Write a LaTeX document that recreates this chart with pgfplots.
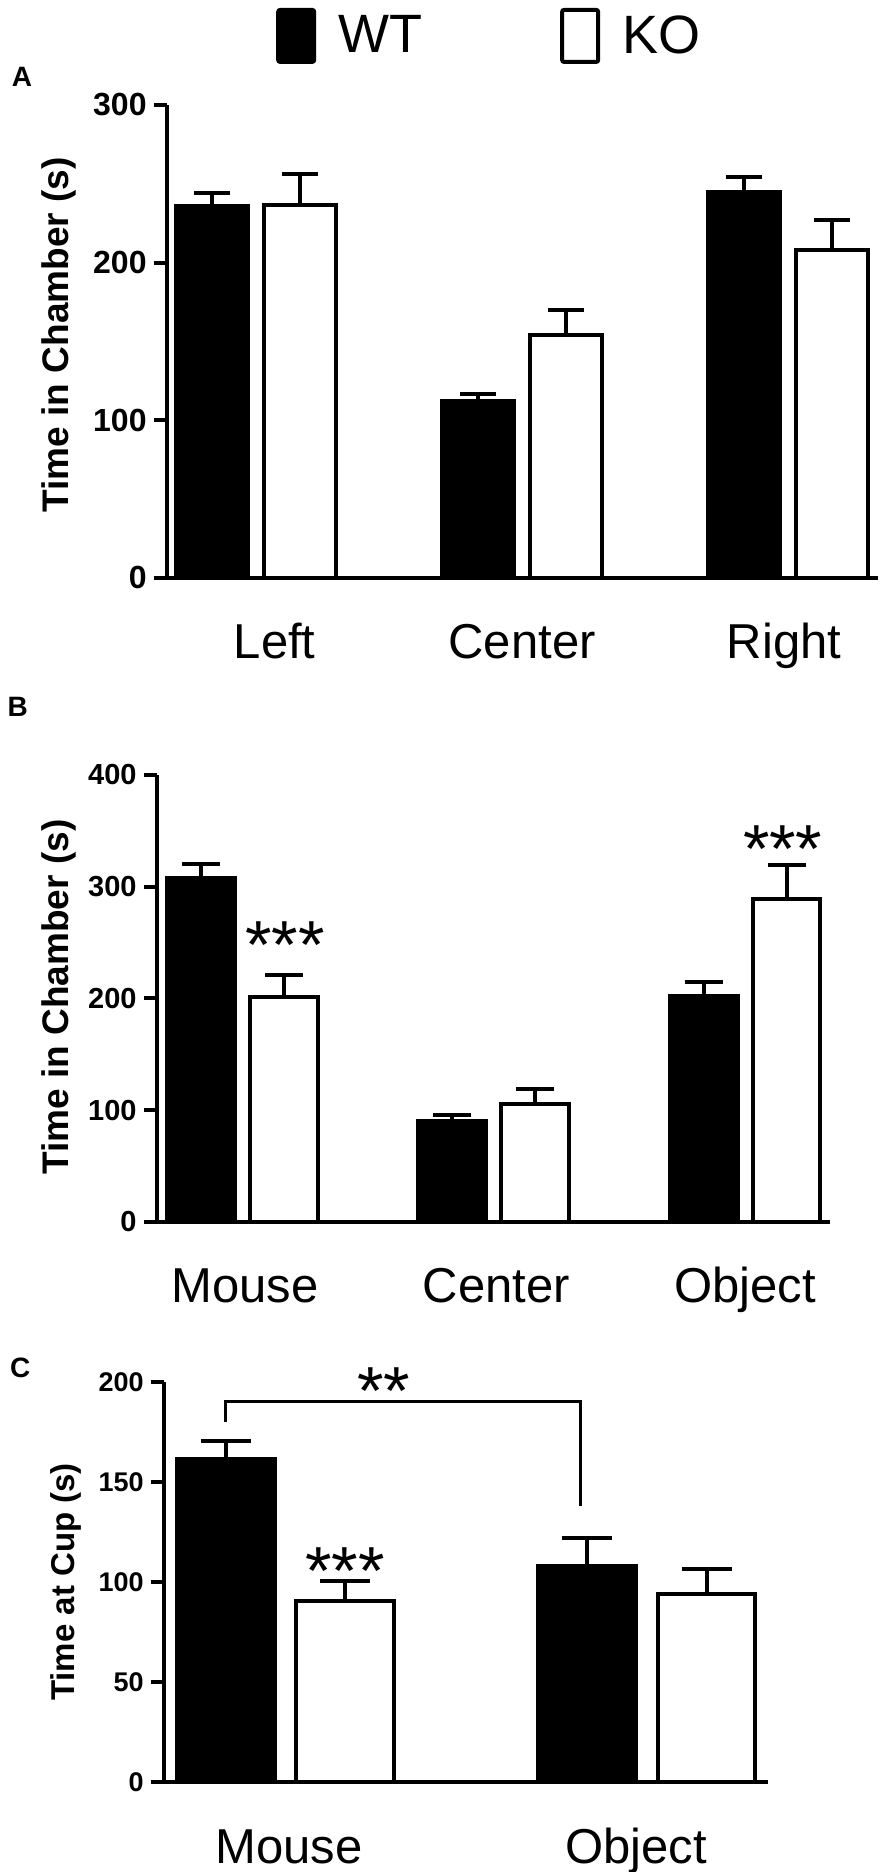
\documentclass[border=0pt]{standalone}
\usepackage{fontspec}
\setmainfont{Liberation Sans}
\usepackage{pgfplots}
\pgfplotsset{compat=1.18}

% bars are placed at group -0.165 (WT) and +0.165 (KO)
\pgfplotsset{
  panel/.style={
    scale only axis, anchor=south west, clip=false,
    axis x line*=bottom, axis y line*=left,
    axis line style={line width=2pt, -},
    ymin=0,
    tick align=outside,
    major tick length=6.5pt,
    ytick style={line width=2pt, black},
    xtick style={draw=none},
    /pgf/number format/assume math mode=true,
    xticklabel style={anchor=base, yshift=-34pt, font=\fontsize{24.5}{24.5}\selectfont},
    yticklabel style={anchor=east, inner sep=0pt, xshift=-3.5pt},
  },
  bars/.style={ybar, bar width=0.27, bar shift=0pt, line width=2pt, draw=black,
    error bars/y dir=plus, error bars/y explicit,
    error bars/error bar style={line width=2pt, black},
    error bars/error mark options={rotate=90, line width=2pt, black, mark size=#1}},
  wt/.style={fill=black, bars=#1},
  ko/.style={fill=white, bars=#1},
}
\tikzset{
  stars/.style={font=\fontsize{34}{34}\selectfont, anchor=base, inner sep=0pt},
  letter/.style={font=\bfseries\fontsize{14}{14}\selectfont},
}

\begin{document}
\begin{tikzpicture}
\useasboundingbox (0,0) rectangle (446pt,936pt);

% A
\begin{axis}[panel, at={(83.5pt,647pt)}, width=355.5pt, height=236.5pt,
  xmin=-0.335, xmax=2.338, ymax=300, ytick={0,100,200,300},
  xtick={0.07,1,1.985}, xticklabels={Left,Center,Right},
  yticklabel style={font=\bfseries\fontsize{16}{16}\selectfont},
  ylabel={Time in Chamber (s)},
  ylabel style={at={(axis description cs:-0.152,0.514)}, anchor=center,
    font=\bfseries\fontsize{18.5}{18.5}\selectfont},
  legend columns=2,
  legend style={at={(axis description cs:0.153,1.146)}, anchor=west,
    draw=none, fill=none, inner sep=0pt, nodes={inner sep=0pt},
    font=\fontsize{27}{27}\selectfont,
    /tikz/every odd column/.append style={column sep=11pt},
    /tikz/every even column/.append style={column sep=69pt}},
  legend image code/.code={\draw[#1, line width=2pt, rounded corners=1pt] (0pt,-13pt) rectangle (18pt,13pt);},
]
\addplot[wt=9pt] coordinates {(-0.165,236) +- (0,8) (0.835,112) +- (0,5) (1.835,244.5) +- (0,10)};
\addlegendentry{WT}
\addplot[ko=9pt] coordinates {(0.165,236.5) +- (0,20) (1.165,154) +- (0,16) (2.165,208) +- (0,19)};
\addlegendentry{KO}
\node[letter] at (axis description cs:-0.204,1.059) {A};
\end{axis}

% B
\begin{axis}[panel, at={(78.5pt,325pt)}, width=336.5pt, height=223.5pt,
  xmin=-0.34, xmax=2.338, ymax=400, ytick={0,100,200,300,400},
  xtick={0.01,1.01,2}, xticklabels={Mouse,Center,Object},
  yticklabel style={font=\bfseries\fontsize{14.5}{14.5}\selectfont},
  ylabel={Time in Chamber (s)},
  ylabel style={at={(axis description cs:-0.146,0.503)}, anchor=center,
    font=\bfseries\fontsize{18.5}{18.5}\selectfont},
]
\addplot[wt=9.5pt] coordinates {(-0.165,308) +- (0,12) (0.835,90) +- (0,6) (1.835,202) +- (0,13)};
\addplot[ko=9.5pt] coordinates {(0.165,201.5) +- (0,19.5) (1.165,105.5) +- (0,13.5) (2.165,289) +- (0,30.5)};
\node[stars] at (axis cs:0.17,227) {***};
\node[stars] at (axis cs:2.15,313) {***};
\node[letter] at (axis description cs:-0.207,1.152) {B};
\end{axis}

% C
\begin{axis}[panel, at={(82pt,45pt)}, width=301.8pt, height=200pt,
  xmin=-0.336, xmax=1.334, ymax=200, ytick={0,50,100,150,200},
  xtick={0.01,0.97}, xticklabels={Mouse,Object},
  yticklabel style={font=\bfseries\fontsize{13.5}{13.5}\selectfont},
  ylabel={Time at Cup (s)},
  ylabel style={at={(axis description cs:-0.162,0.5)}, anchor=center,
    font=\bfseries\fontsize{16.5}{16.5}\selectfont},
]
\addplot[wt=12.5pt] coordinates {(-0.165,161.3) +- (0,9.3) (0.835,108.2) +- (0,14)};
\addplot[ko=12.5pt] coordinates {(0.165,90.6) +- (0,10) (1.165,93.9) +- (0,12.8)};
\addplot[line width=1.5pt, black, mark=none] coordinates {(-0.167,180) (-0.167,190) (0.815,190) (0.815,138)};
\node[stars] at (axis cs:0.165,93.7) {***};
\node[stars] at (axis cs:0.272,183.7) {**};
\node[letter] at (axis description cs:-0.238,1.035) {C};
\end{axis}
\end{tikzpicture}
\end{document}
